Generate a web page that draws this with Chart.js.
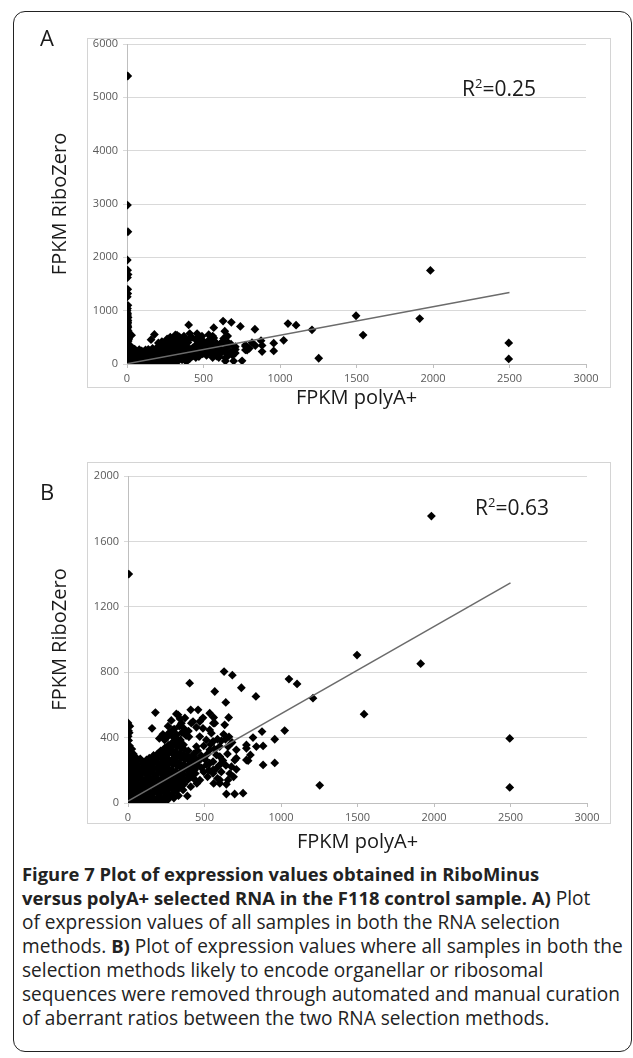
<!DOCTYPE html>
<html>
<head>
<meta charset="utf-8">
<script src="https://cdn.jsdelivr.net/npm/chart.js@4.4.1/dist/chart.umd.min.js"></script>
<style>
	body { margin: 0; background: #fff; width: 633px; height: 1058px; position: relative; overflow: hidden; font-family: 'Open Sans', sans-serif; color: #1a1a1a; }
	.frame { position: absolute; left: 13px; top: 11px; width: 619px; height: 1041px; border: 1.5px solid #222; border-radius: 12px; box-sizing: border-box; }
	.box { position: absolute; border: 1px solid #d4d4d4; box-sizing: border-box; }
	canvas { position: absolute; left: 0; }
	.letter { position: absolute; left: 40px; font-size: 22px; }
	.r2 { position: absolute; font-size: 21px; }
	.r2 sup { font-size: 13px; vertical-align: 0; position: relative; top: -8px; }
	.caption { position: absolute; left: 22px; top: 862px; width: 610px; font-size: 19.1px; line-height: 24px; white-space: nowrap; color: #222; }
	.caption b { font-weight: 700; font-size: 18.4px; }
</style>
</head>
<body>
<div class="frame"></div>
<div class="box" style="left:87px; top:38px; width:524px; height:350px;"></div>
<div class="box" style="left:87px; top:462px; width:524px; height:362px;"></div>
<canvas id="chart-a" width="633" height="420" style="top:0px;"></canvas>
<canvas id="chart-b" width="633" height="420" style="top:440px;"></canvas>
<div class="letter" style="top:22px;">A</div>
<div class="letter" style="top:476px;">B</div>
<div class="r2" style="left:462px; top:74px;">R<sup>2</sup>=0.25</div>
<div class="r2" style="left:475px; top:493px;">R<sup>2</sup>=0.63</div>
<div class="caption">
<b>Figure 7 Plot of expression values obtained in RiboMinus</b><br>
<b>versus polyA+ selected RNA in the F118 control sample. A)</b> Plot<br>
of expression values of all samples in both the RNA selection<br>
methods. <b>B)</b> Plot of expression values where all samples in both the<br>
selection methods likely to encode organellar or ribosomal<br>
sequences were removed through automated and manual curation<br>
of aberrant ratios between the two RNA selection methods.
</div>
<script>
// genes kept after curation (FPKM polyA+, FPKM RiboZero)
const keptPoints = [
	[2, 0], [5, 14], [0, 37], [8, 52], [3, 81], [6, 103], [1, 122], [4, 149], [0, 178], [7, 197],
	[3, 232], [0, 258], [5, 291], [2, 318], [0, 352], [4, 383], [1, 408], [3, 442], [0, 490], [5, 1400],
	[22, 6], [18, 31], [25, 58], [20, 91], [15, 118], [24, 152], [19, 181], [21, 212],
	[40, 11], [45, 42], [38, 69], [42, 102], [47, 128], [36, 163], [44, 188], [41, 224],
	[65, 0], [62, 27], [68, 54], [60, 86], [70, 113], [63, 147], [67, 174], [72, 206], [61, 233],
	[90, 9], [95, 36], [88, 66], [92, 93], [97, 127], [86, 154], [94, 186], [90, 213], [96, 244],
	[115, 0], [118, 29], [112, 57], [120, 89], [114, 117], [122, 149], [116, 177], [119, 209], [113, 237], [121, 263],
	[140, 12], [145, 39], [138, 71], [142, 98], [147, 131], [136, 159], [144, 191], [141, 219], [146, 251], [139, 274],
	[165, 0], [168, 31], [162, 59], [170, 92], [164, 119], [172, 151], [166, 179], [169, 211], [163, 238], [171, 267], [167, 291],
	[190, 6], [195, 34], [188, 66], [192, 94], [197, 126], [186, 156], [194, 184], [190, 216], [196, 243], [189, 276], [193, 301],
	[215, 0], [218, 29], [212, 61], [220, 88], [214, 121], [222, 149], [216, 181], [219, 208], [213, 241], [221, 269], [217, 298], [214, 319],
	[240, 16], [245, 41], [238, 69], [242, 101], [247, 129], [236, 161], [244, 189], [241, 222], [246, 249], [239, 281], [243, 309], [240, 336],
	[265, 34], [262, 61], [268, 89], [264, 122], [270, 148], [266, 181], [263, 209], [269, 241], [265, 268], [262, 302], [268, 329], [264, 353],
	[290, 56], [295, 84], [288, 116], [292, 144], [297, 176], [286, 204], [294, 236], [290, 264], [296, 296], [289, 324], [293, 354], [291, 371],
	[315, 74], [318, 106], [312, 134], [320, 166], [314, 194], [322, 226], [316, 254], [319, 286], [313, 314], [321, 346], [317, 374], [322, 392],
	[340, 96], [345, 124], [338, 156], [342, 184], [347, 216], [336, 244], [344, 276], [341, 304], [346, 336], [339, 364], [343, 386],
	[365, 114], [368, 146], [362, 174], [370, 206], [364, 234], [372, 266], [366, 294], [369, 326], [363, 356],
	[390, 141], [395, 169], [388, 201], [392, 229], [397, 261], [386, 291], [394, 319],
	[415, 161], [418, 189], [412, 221], [420, 249], [414, 276],
	[440, 181], [436, 204], [443, 231],
	[260, 20], [300, 30], [330, 45], [388, 43], [360, 80], [410, 100],
	[12, 470], [8, 430], [25, 330], [35, 300], [50, 280], [15, 270], [10, 350], [30, 250], [55, 255], [80, 270],
	[255, 402], [270, 431], [288, 410], [302, 452], [318, 418], [335, 470], [352, 430], [366, 455], [380, 412],
	[395, 440], [262, 470], [283, 505], [340, 515], [372, 520], [398, 405], [310, 395], [228, 420], [205, 395], [240, 385],
	[430, 300], [455, 320], [478, 290], [495, 350], [520, 300], [540, 360], [565, 330], [585, 390], [610, 380],
	[625, 420], [660, 405], [680, 370], [650, 300], [620, 260], [640, 230], [665, 180], [690, 160], [610, 190],
	[585, 150], [560, 120], [520, 160], [495, 190], [470, 140], [450, 120], [480, 215], [505, 265], [530, 200],
	[455, 230], [430, 150], [445, 270],
	[414, 488], [469, 498], [490, 457], [567, 488], [545, 427], [469, 406], [512, 386], [556, 376],
	[599, 345], [447, 345], [534, 325], [578, 294], [469, 263], [512, 233], [556, 202], [599, 233],
	[179, 553], [316, 545], [327, 539], [410, 570], [458, 570], [157, 457], [490, 521], [560, 523],
	[558, 488], [447, 463], [637, 390], [876, 437], [1024, 443], [959, 390], [817, 400], [774, 355],
	[883, 349], [708, 325], [785, 259], [883, 233], [959, 245], [643, 114], [643, 55], [697, 55],
	[752, 60], [556, 182], [600, 120], [708, 206], [556, 253], [708, 274], [676, 222], [800, 294],
	[403, 733], [567, 682], [639, 615], [741, 705], [836, 652], [628, 804], [682, 782],
	[294, 447], [349, 488], [425, 498], [534, 549], [632, 478], [534, 447], [654, 345], [774, 263],
	[698, 263], [600, 284], [578, 212], [534, 243], [654, 141], [600, 141], [774, 335], [839, 345],
	[658, 523], [1052, 758], [1105, 728], [1209, 641], [1497, 905], [1913, 852], [1983, 1755],
	[1543, 543], [1253, 108], [2495, 395], [2495, 95]
];

// genes dropped as organellar / ribosomal (only in panel A)
const removedPoints = [
	[5, 5400], [3, 2980], [6, 2480], [2, 1950], [4, 1760], [7, 1680], [3, 1620], [5, 1320], [2, 1260],
	[6, 1100], [3, 1040], [1, 1000], [4, 920], [7, 870], [2, 830], [5, 780], [3, 730], [6, 690],
	[1, 640], [4, 600], [2, 560], [8, 520], [30, 540],
	[4, 950], [2, 890], [6, 810], [3, 760], [5, 710], [1, 660], [8, 620], [3, 580], [10, 500], [6, 470]
];

const trendA = [[0, 5], [2500, 1340]];
const trendB = [[0, 12], [2500, 1346]];

const xTicks = [0, 500, 1000, 1500, 2000, 2500, 3000];
const yTicksA = [0, 1000, 2000, 3000, 4000, 5000, 6000];
const yTicksB = [0, 400, 800, 1200, 1600, 2000];

const tickFont = { family: 'Open Sans', size: 11 };
const titleFont = { family: 'Open Sans', size: 20 };

function toXY(list) {
	return list.map(([x, y]) => ({ x, y }));
}

function buildPanel(id, points, trend, yTicks, box) {
	const yMax = yTicks[yTicks.length - 1];

	return new Chart(document.getElementById(id), {
		type: 'scatter',
		data: {
			datasets: [
				{
					data: toXY(trend),
					showLine: true,
					borderColor: '#6b6b6b',
					borderWidth: 1.5,
					pointRadius: 0,
					order: 0,
				},
				{
					data: toXY(points),
					pointStyle: 'rectRot',
					pointRadius: 4.4,
					backgroundColor: '#000',
					borderWidth: 0,
					order: 1,
				}
			]
		},
		options: {
			responsive: false,
			animation: false,
			devicePixelRatio: 1,
			layout: { padding: { left: 0, top: box.top, right: 633 - box.right, bottom: 0 } },
			plugins: { legend: { display: false }, tooltip: { enabled: false } },
			scales: {
				x: {
					type: 'linear',
					min: 0,
					max: 3000,
					afterBuildTicks: (s) => { s.ticks = xTicks.map((v) => ({ value: v })); },
					afterFit: (s) => { s.height = 420 - box.bottom; },
					ticks: { font: tickFont, color: '#595959', padding: 4, callback: (v) => String(v) },
					grid: { drawOnChartArea: false, tickLength: 4, color: '#bfbfbf' },
					border: { color: '#bfbfbf' },
					title: { display: true, text: 'FPKM polyA+', font: titleFont, color: '#1a1a1a', padding: { bottom: box.xTitlePad } },
				},
				y: {
					type: 'linear',
					min: 0,
					max: yMax,
					afterBuildTicks: (s) => { s.ticks = yTicks.map((v) => ({ value: v })); },
					afterFit: (s) => { s.width = box.left; },
					ticks: { font: tickFont, color: '#595959', padding: 5, callback: (v) => String(v) },
					grid: { color: '#d9d9d9', tickLength: 4 },
					border: { color: '#bfbfbf' },
					title: { display: true, text: 'FPKM RiboZero', font: titleFont, color: '#1a1a1a', padding: { top: 48 } },
				}
			}
		}
	});
}

window.addEventListener('load', function () {
	buildPanel('chart-a', removedPoints.concat(keptPoints), trendA, yTicksA, { left: 127, top: 44, right: 586, bottom: 364, xTitlePad: 10 });
	buildPanel('chart-b', keptPoints, trendB, yTicksB, { left: 128, top: 36, right: 587, bottom: 363, xTitlePad: 6 });
});
</script>
</body>
</html>
